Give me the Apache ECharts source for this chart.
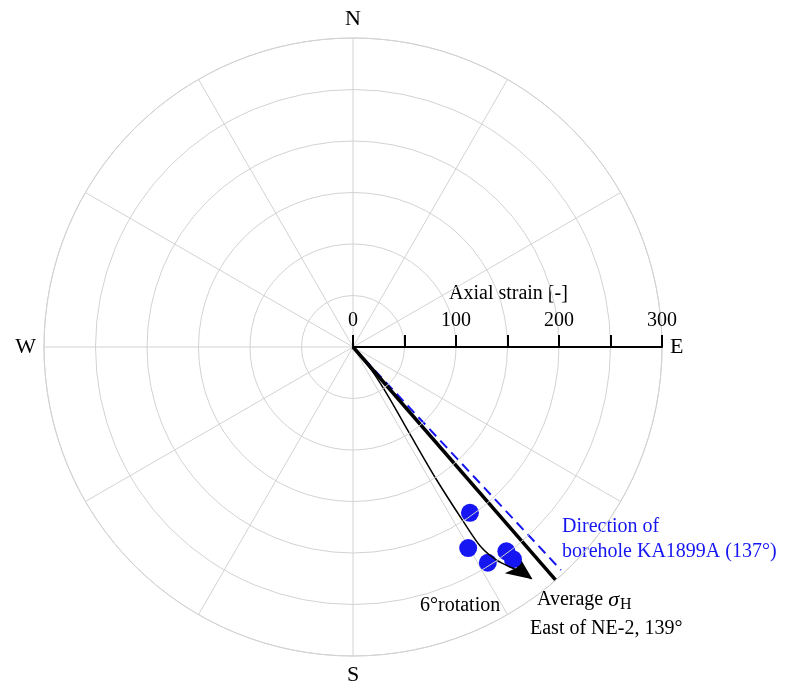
<!DOCTYPE html>
<html>
<head>
<meta charset="utf-8">
<script src="https://cdn.jsdelivr.net/npm/echarts@6/dist/echarts.min.js"></script>
<style>
  html, body { margin: 0; padding: 0; background: #fff; }
  #chart { width: 812px; height: 689px; }
</style>
</head>
<body>
<div id="chart"></div>
<script>
// compass labels keyed by angle-axis value (0 = east, clockwise)
const compassLabels = { 0: 'E', 90: 'S', 180: 'W', 270: 'N' };
const radiusTickLabels = [0, 100, 200, 300];

// measured strain points: radius = axial strain, bearing = degrees clockwise from north
const pointStrain = [197, 225, 247, 248, 258];
const pointBearing = [144.8, 150.2, 148.0, 143.1, 143.0];

// average sigma H direction (139°) and borehole direction (137°)
const averageStrain = [0, 300];
const averageBearing = [139, 139];
const boreholeStrain = [0, 296];
const boreholeBearing = [137, 137];

// thin curve showing the 6° rotation
const rotationStrain = [0, 30, 60, 100, 150, 200, 230, 250, 268, 284];
const rotationBearing = [139.5, 141.5, 144.5, 146.8, 147.8, 147.7, 147.4, 146, 143.8, 142.4];
const arrowStrain = [285];
const arrowBearing = [142.3];

const serif = '"Liberation Serif", "DejaVu Serif", serif';
const blue = '#1616f2';
const grid = '#d2d2d2';

// bearing (from north) -> angle axis value (from east, clockwise)
const toPolar = (rs, bs) => rs.map((r, i) => [r, bs[i] - 90]);

const chart = echarts.init(document.getElementById('chart'));

const option = {
  animation: false,
  polar: {
    center: [353, 347],
    radius: 309
  },
  angleAxis: {
    type: 'value',
    min: 0,
    max: 360,
    interval: 30,
    startAngle: 0,
    clockwise: true,
    axisLine: { lineStyle: { color: grid, width: 1 } },
    axisTick: { show: false },
    splitLine: { lineStyle: { color: grid, width: 1 } },
    axisLabel: {
      formatter: v => compassLabels[v] || '',
      fontFamily: serif,
      fontSize: 22,
      color: '#000',
      margin: 8
    }
  },
  radiusAxis: {
    type: 'value',
    min: 0,
    max: 300,
    interval: 50,
    z: 10,
    axisLine: { lineStyle: { color: '#000', width: 2 } },
    axisTick: { length: 12, lineStyle: { color: '#000', width: 2 } },
    axisLabel: {
      formatter: v => radiusTickLabels.includes(v) ? String(v) : '',
      fontFamily: serif,
      fontSize: 20,
      color: '#000',
      margin: 16
    },
    splitLine: { show: true, lineStyle: { color: grid, width: 1 } }
  },
  series: [
    {
      type: 'line',
      coordinateSystem: 'polar',
      data: toPolar(boreholeStrain, boreholeBearing),
      showSymbol: false,
      lineStyle: { color: blue, width: 2, type: [10, 6] }
    },
    {
      type: 'line',
      coordinateSystem: 'polar',
      data: toPolar(averageStrain, averageBearing),
      showSymbol: false,
      lineStyle: { color: '#000', width: 3.5 }
    },
    {
      type: 'line',
      coordinateSystem: 'polar',
      data: toPolar(rotationStrain, rotationBearing),
      showSymbol: false,
      smooth: 0.3,
      lineStyle: { color: '#000', width: 1.5 }
    },
    {
      type: 'scatter',
      coordinateSystem: 'polar',
      data: toPolar(arrowStrain, arrowBearing),
      symbol: 'arrow',
      symbolSize: [17, 26],
      symbolRotate: -126,
      itemStyle: { color: '#000', opacity: 1 }
    },
    {
      type: 'scatter',
      coordinateSystem: 'polar',
      data: toPolar(pointStrain, pointBearing),
      symbolSize: 18,
      itemStyle: { color: blue, opacity: 1 }
    }
  ],
  graphic: [
    {
      type: 'text', left: 449, top: 284,
      style: { text: 'Axial strain [-]', fill: '#000', font: '20px ' + serif }
    },
    {
      type: 'text', left: 562, top: 514,
      style: { text: 'Direction of\nborehole KA1899A (137°)', fill: blue, font: '20px ' + serif, lineHeight: 25 }
    },
    {
      type: 'text', left: 537, top: 589,
      style: {
        text: 'Average {s|σ}{h|H}',
        font: '20px ' + serif, fill: '#000',
        rich: {
          s: { font: 'italic 22px ' + serif, fill: '#000' },
          h: { font: '16px ' + serif, fill: '#000', padding: [10, 0, 0, 1] }
        }
      }
    },
    {
      type: 'text', left: 530, top: 619,
      style: { text: 'East of NE-2, 139°', font: '20px ' + serif, fill: '#000' }
    },
    {
      type: 'text', left: 420, top: 596,
      style: { text: '6°rotation', font: '20px ' + serif, fill: '#000' }
    }
  ]
};

chart.setOption(option);
</script>
</body>
</html>
